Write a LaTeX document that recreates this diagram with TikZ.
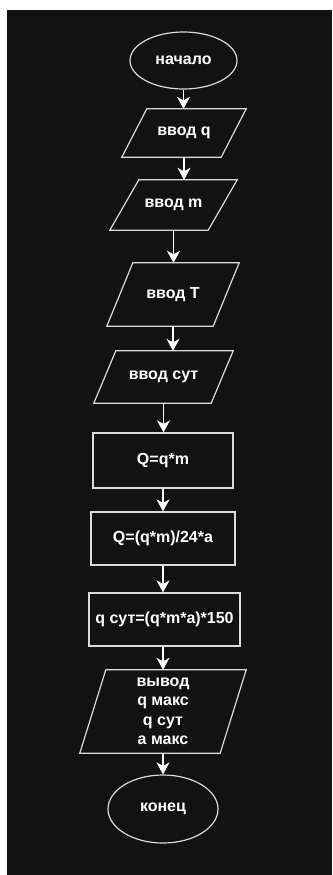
\documentclass[tikz,border=0pt]{standalone}
\usepackage{fontspec}
\setmainfont{Liberation Sans}
\usetikzlibrary{shapes.geometric,arrows.meta,calc}
\definecolor{bgdark}{HTML}{121212}
\definecolor{edge}{HTML}{DADADA}
\tikzset{
  txt/.style={text=white, font=\fontsize{16}{19.5}\selectfont\bfseries, align=center, inner sep=0pt},
  term/.style={txt, ellipse, draw=edge, line width=1.2pt, fill=bgdark},
  proc/.style={txt, rectangle, draw=edge, line width=1.2pt, fill=bgdark},
  iobox/.style={txt, rectangle, draw=none},
  flow/.style={draw=white, line width=1.4pt, -{Stealth[length=12pt,width=13pt,inset=3.5pt]}},
  para/.style={draw=edge, line width=1.2pt, fill=bgdark}
}
\newcommand{\paral}[2]{%
  \draw[para] ($(#1.north west)+(#2,0)$) -- (#1.north east) -- ($(#1.south east)-(#2,0)$) -- (#1.south west) -- cycle;}
\begin{document}
\begin{tikzpicture}[x=1pt,y=-1pt]
\useasboundingbox (0,0) rectangle (332,875);
\fill[white] (0,0) rectangle (332,875);
\fill[bgdark] (7,10) rectangle (332,875);

\node[term, minimum width=107pt, minimum height=57pt] (start) at (183.5,60.5) {начало};

\node[iobox, minimum width=124pt, minimum height=48pt] (inq) at (184,133) {};
\paral{inq}{25pt}
\node[txt] at (inq) {ввод q};

\node[iobox, minimum width=127pt, minimum height=50pt] (inm) at (173.5,205) {};
\paral{inm}{29pt}
\node[txt] at (inm) {ввод m};

\node[iobox, minimum width=132pt, minimum height=63pt] (inT) at (173,294.5) {};
\paral{inT}{26pt}
\node[txt] at (inT) {ввод T};

\node[iobox, minimum width=139pt, minimum height=52pt] (insut) at (163.5,377) {};
\paral{insut}{22pt}
\node[txt] at (insut) {ввод сут};

\node[proc, minimum width=140pt, minimum height=55pt] (p1) at (163,460.5) {Q=q*m};
\node[proc, minimum width=144pt, minimum height=53pt] (p2) at (163,538.5) {Q=(q*m)/24*a};
\node[proc, minimum width=151pt, minimum height=53pt] (p3) at (164.5,619.5) {q сут=(q*m*a)*150};

\node[iobox, minimum width=166pt, minimum height=83pt] (out) at (163,711.5) {};
\paral{out}{26pt}
\node[txt] at (out) {вывод\\q макс\\q сут\\а макс};

\node[term, minimum width=110pt, minimum height=68pt] (stop) at (163,809) {конец};

\draw[flow] (start.south) -- (start.south |- inq.north);
\draw[flow] (inq.south) -- (inq.south |- inm.north);
\draw[flow] (inm.south) -- (inm.south |- inT.north);
\draw[flow] (inT.south) -- (inT.south |- insut.north);
\draw[flow] (insut.south) -- (insut.south |- p1.north);
\draw[flow] (p1.south) -- (p1.south |- p2.north);
\draw[flow] (p2.south) -- (p2.south |- p3.north);
\draw[flow] (p1.south |- p3.south) -- (p1.south |- out.north);
\draw[flow] (out.south) -- (out.south |- stop.north);
\end{tikzpicture}
\end{document}
